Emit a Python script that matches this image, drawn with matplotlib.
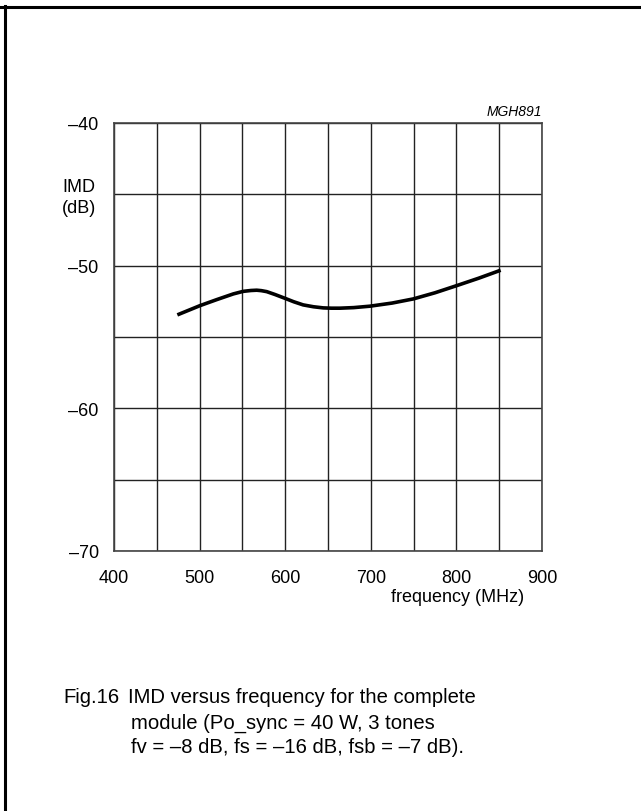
import matplotlib
matplotlib.use("Agg")
import matplotlib.pyplot as plt
from matplotlib.lines import Line2D

plt.rcParams['font.family'] = ['Liberation Sans', 'DejaVu Sans']

# Data
freq_mhz = [474, 500.5, 520, 539.4, 551, 560, 566.7, 572, 578.4, 588, 599.8, 610, 621,
            633, 644.5, 654, 664, 680, 699, 725, 749.7, 775, 800.3, 826, 851.7]
imd_db = [-53.45, -52.80, -52.38, -51.98, -51.80, -51.74, -51.72, -51.75, -51.82, -52.02,
          -52.29, -52.53, -52.75, -52.88, -52.96, -52.98, -52.98, -52.94, -52.84, -52.62,
          -52.33, -51.90, -51.40, -50.88, -50.32]

x_ticks = [400, 500, 600, 700, 800, 900]
x_grid = [400, 450, 500, 550, 600, 650, 700, 750, 800, 850, 900]
y_ticks = [-70, -60, -50, -40]
y_tick_labels = ['\u201370', '\u201360', '\u201350', '\u201340']
y_grid = [-70, -65, -60, -55, -50, -45, -40]

caption_lines = [
    ("Fig.16", "IMD versus frequency for the complete"),
    ("", "module (Po_sync = 40 W, 3 tones"),
    ("", "fv = \u20138 dB, fs = \u201316 dB, fsb = \u20137 dB)."),
]

W, H = 641, 812
fig = plt.figure(figsize=(W / 100, H / 100), dpi=100)

def fx(px):
    return px / W

def fy(py):
    return 1 - py / H

left, right, top, bottom = 114, 542, 124, 552
ax = fig.add_axes([fx(left), fy(bottom), (right - left) / W, (bottom - top) / H])
ax.set_xlim(400, 900)
ax.set_ylim(-70, -40)

for g in x_grid:
    ax.axvline(g, color='#222222', lw=1.0, zorder=1)
for g in y_grid:
    ax.axhline(g, color='#222222', lw=1.0, zorder=1)

ax.plot(freq_mhz, imd_db, color='black', lw=2.6, solid_capstyle='butt',
        solid_joinstyle='round', zorder=3)

ax.set_xticks(x_ticks)
ax.set_xticklabels([str(v) for v in x_ticks], fontsize=13)
ax.set_yticks(y_ticks)
ax.set_yticklabels(y_tick_labels, fontsize=13)
ax.tick_params(length=0, pad=11)
ax.tick_params(axis='x', pad=13)
for s in ax.spines.values():
    s.set_color('#444444')
    s.set_linewidth(1.2)

fig.text(fx(62), fy(187), "IMD", fontsize=13, ha='left', va='center')
fig.text(fx(62), fy(209), "(dB)", fontsize=13, ha='left', va='center')
fig.text(fx(542), fy(112), "MGH891", fontsize=10, style='italic', ha='right', va='center')
fig.text(fx(524), fy(598), "frequency (MHz)", fontsize=13, ha='right', va='center')

cap_y = [698, 723, 748]
for (a, b), yy in zip(caption_lines, cap_y):
    if a:
        fig.text(fx(63), fy(yy), a, fontsize=14.6, ha='left', va='center')
    fig.text(fx(128) if a else fx(131), fy(yy), b, fontsize=14.6, ha='left', va='center')

# Frame (top and left edges)
fig.add_artist(Line2D([0, 1], [fy(7.5), fy(7.5)], transform=fig.transFigure, color='black', lw=2.2))
fig.add_artist(Line2D([fx(4.5), fx(4.5)], [0, fy(6.5)], transform=fig.transFigure, color='black', lw=2.2))

fig.savefig("out.png", dpi=100)
